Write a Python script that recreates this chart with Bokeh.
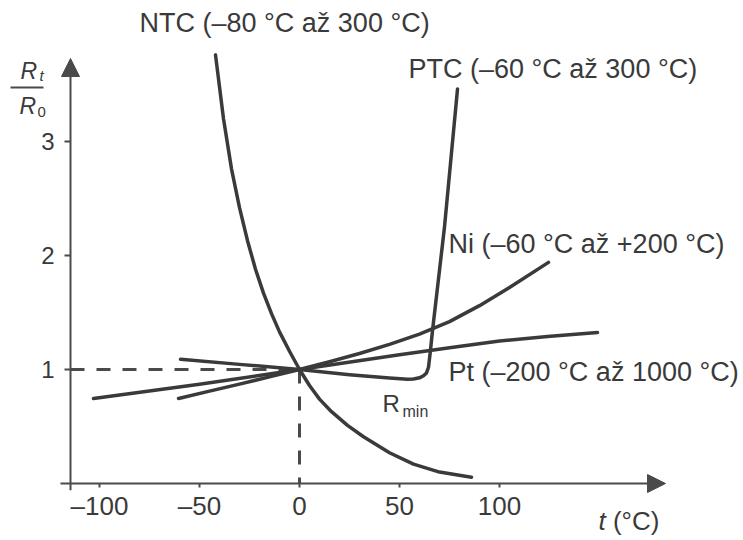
from bokeh.plotting import figure
from bokeh.models import Range1d, FixedTicker, Label, Arrow, NormalHead
from bokeh.embed import file_html
from bokeh.resources import INLINE

# ---- data (t in °C, R_t/R_0) ----
ntc_t = [-42, -38, -34, -30, -26, -22, -18, -14, -10, -5, 0, 5, 10, 16, 24, 32, 45, 57, 70, 86]
ntc_r = [3.76, 3.20, 2.76, 2.42, 2.13, 1.88, 1.67, 1.49, 1.33, 1.16, 1.0, 0.86, 0.74, 0.63,
         0.51, 0.41, 0.27, 0.17, 0.10, 0.055]

ptc_t = [-59.5, -30, 0, 25, 45, 54, 57, 60, 62, 63.5, 64.5, 65.5, 66.5, 72.5, 79]
ptc_r = [1.09, 1.045, 1.0, 0.955, 0.925, 0.915, 0.917, 0.927, 0.945, 0.97, 1.02, 1.17, 1.34, 2.25, 3.46]

ni_t = [-60.5, -45, -30, -15, 0, 15, 30, 45, 60, 75, 90, 105, 124.5]
ni_r = [0.746, 0.81, 0.872, 0.935, 1.0, 1.068, 1.14, 1.22, 1.31, 1.42, 1.56, 1.72, 1.94]

pt_t = [-103, -50, 0, 50, 75, 100, 124, 149]
pt_r = [0.746, 0.87, 1.0, 1.13, 1.19, 1.25, 1.29, 1.325]

ref_t = 0
ref_r = 1

x_ticks = [-100, -50, 0, 50, 100]
x_tick_labels = ["\u2013100", "\u201350", "0", "50", "100"]
y_ticks = [1, 2, 3]
y_tick_labels = ["1", "2", "3"]

labels = {
    "ntc": "NTC (\u201380 \u00b0C a\u017e 300 \u00b0C)",
    "ptc": "PTC (\u201360 \u00b0C a\u017e 300 \u00b0C)",
    "ni": "Ni (\u201360 \u00b0C a\u017e +200 \u00b0C)",
    "pt": "Pt (\u2013200 \u00b0C a\u017e 1000 \u00b0C)",
}

# ---- styling ----
FONT = "Liberation Sans"
INK = "#3a3a3a"
AX = "#4a4a4a"

x_lo, x_hi = -149.5, 222.0
y_lo, y_hi = -0.5, 4.237
x_axis_at = -114.5   # where the vertical axis crosses
y_axis_at = 0.0      # where the horizontal axis crosses

p = figure(width=743, height=540, output_backend="svg", toolbar_location=None,
           x_range=Range1d(x_lo, x_hi), y_range=Range1d(y_lo, y_hi),
           min_border=0, min_border_left=0, min_border_bottom=0,
           min_border_top=0, min_border_right=0)
p.outline_line_color = None
p.grid.visible = False
p.background_fill_color = "white"

for ax in (p.xaxis[0], p.yaxis[0]):
    ax.axis_line_color = None
    ax.major_tick_in = 0
    ax.minor_tick_out = 0
    ax.minor_tick_in = 0
    ax.major_tick_line_color = AX
    ax.major_tick_line_width = 2
    ax.major_label_text_font = FONT
    ax.major_label_text_color = INK

p.xaxis.fixed_location = y_axis_at
p.xaxis.ticker = FixedTicker(ticks=x_ticks)
p.xaxis.major_label_overrides = dict(zip(x_ticks, x_tick_labels))
p.xaxis.major_tick_out = 4
p.xaxis.major_label_standoff = 3
p.xaxis.major_label_text_font_size = "26px"

p.yaxis.fixed_location = x_axis_at
p.yaxis.ticker = FixedTicker(ticks=y_ticks)
p.yaxis.major_label_overrides = dict(zip(y_ticks, y_tick_labels))
p.yaxis.major_tick_out = 6
p.yaxis.major_label_standoff = 10
p.yaxis.major_label_text_font_size = "24px"

# axis arrows
p.add_layout(Arrow(end=NormalHead(size=18, fill_color=AX, line_color=AX),
                   x_start=-119.5, y_start=y_axis_at, x_end=183, y_end=y_axis_at,
                   line_color=AX, line_width=2))
p.add_layout(Arrow(end=NormalHead(size=18, fill_color=AX, line_color=AX),
                   x_start=x_axis_at, y_start=-0.06, x_end=x_axis_at, y_end=3.728,
                   line_color=AX, line_width=2))

# dashed reference lines
p.line([x_axis_at, ref_t], [ref_r, ref_r], line_color=AX, line_width=3, line_dash="14 12")
p.line([ref_t, ref_t], [ref_r, y_axis_at], line_color=AX, line_width=3, line_dash="14 13")

# curves
for xs, ys in ((pt_t, pt_r), (ni_t, ni_r), (ptc_t, ptc_r), (ntc_t, ntc_r)):
    p.line(xs, ys, line_color=INK, line_width=3.5, line_join="round", line_cap="round")

def lab(x, y, text, size="27px", style="normal", align="left"):
    p.add_layout(Label(x=x, y=y, text=text, text_font=FONT, text_font_size=size,
                       text_font_style=style, text_color=INK, text_align=align,
                       text_baseline="alphabetic"))

lab(-80, 4.04, labels["ntc"])
lab(54.5, 3.64, labels["ptc"])
lab(74.5, 2.10, labels["ni"])
lab(74.5, 0.975, labels["pt"])

# R_min
lab(41.5, 0.70, "R", size="24px")
lab(51.5, 0.63, "min", size="16px")

# x axis title
lab(149.5, -0.33, "t", size="26px", style="italic")
lab(156.7, -0.33, "(\u00b0C)", size="26px")

# y axis title  R_t / R_0
lab(-139.5, 3.62, "R", size="23px", style="italic")
lab(-130.0, 3.575, "t", size="15px", style="italic")
p.add_layout(Arrow(end=None, x_start=-144.5, y_start=3.474, x_end=-128, y_end=3.474,
                   line_color=AX, line_width=2))
lab(-140, 3.315, "R", size="23px", style="italic")
lab(-131.0, 3.255, "0", size="15px")

open("out.html", "w").write(file_html(p, INLINE))
